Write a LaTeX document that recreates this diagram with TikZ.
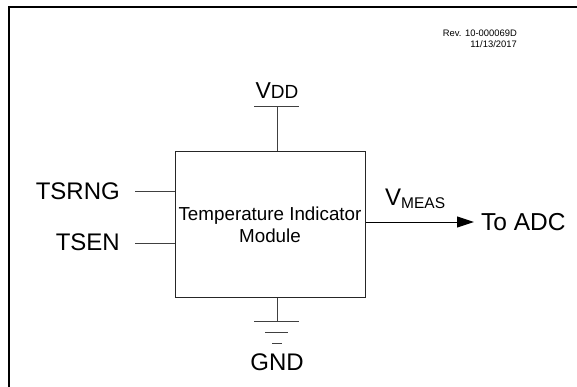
\documentclass[tikz,border=0pt]{standalone}
\usepackage{fontspec}
\setmainfont{Liberation Sans}
\usetikzlibrary{arrows.meta}
\definecolor{wire}{HTML}{404040}
\begin{document}
\begin{tikzpicture}[x=1pt,y=-1pt,
  lbl/.style={inner sep=0pt,font=\fontsize{24}{24}\selectfont},
  wireline/.style={draw=wire,line width=1pt},
  blockbox/.style={draw=black!85,line width=1pt,rectangle,minimum width=190pt,minimum height=145pt,inner sep=0pt,align=center,font=\fontsize{18.8}{22}\selectfont}]
\useasboundingbox (0,0) rectangle (577,387);
% frame
\draw[line width=2pt] (8.5,387) -- (8.5,7.5) -- (577,7.5);
% revision
\node[inner sep=0pt,anchor=east,align=right,font=\fontsize{9.4}{11}\selectfont] (rev) at (517,38.5) {Rev. 10-000069D\\11/13/2017};
% block
\node[blockbox] (box) at (270,224.5) {Temperature Indicator\\Module};
% VDD
\coordinate (vddtop) at (277,107);
\coordinate (vddl) at (254,107);
\coordinate (vddr) at (299,107);
\draw[wireline] (vddtop) -- (vddtop |- box.north);
\draw[wireline] (vddl) -- (vddr);
\node[inner sep=0pt] (vdd) at (277,91) {\fontsize{23}{23}\selectfont V\fontsize{19}{19}\selectfont DD};
% GND
\coordinate (g1) at (277,321);
\coordinate (g1l) at (254,321);
\coordinate (g1r) at (299,321);
\coordinate (g2l) at (265,332);
\coordinate (g2r) at (288,332);
\coordinate (g3l) at (272,343);
\coordinate (g3r) at (282,343);
\draw[wireline] (g1 |- box.south) -- (g1);
\draw[wireline] (g1l) -- (g1r);
\draw[wireline] (g2l) -- (g2r);
\draw[wireline] (g3l) -- (g3r);
\node[lbl] (gnd) at (277,362) {GND};
% inputs
\node[lbl,anchor=east] (tsrng) at (120,191) {TSRNG};
\node[lbl,anchor=east] (tsen) at (120,242) {TSEN};
\coordinate (in1) at (135,192);
\coordinate (in2) at (135,243.5);
\draw[wireline] (in1) -- (in1 -| box.west);
\draw[wireline] (in2) -- (in2 -| box.west);
% output
\coordinate (outtip) at (474,222);
\draw[line width=1pt,-{Triangle[length=17pt,width=11pt]}] (outtip -| box.east) -- (outtip);
\node[lbl,anchor=west,font=\fontsize{24.5}{24.5}\selectfont] (adc) at (481,222) {To ADC};
\node[inner sep=0pt,anchor=west] (vmeas) at (385,199) {\fontsize{24}{24}\selectfont V\raisebox{-2.5pt}{\fontsize{15.5}{15.5}\selectfont MEAS}};
\end{tikzpicture}
\end{document}
